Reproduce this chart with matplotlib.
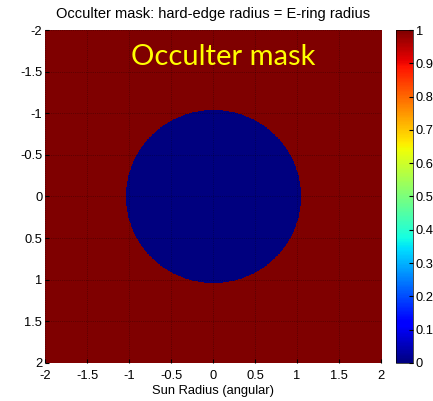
import numpy as np
import matplotlib
matplotlib.use("Agg")
import matplotlib.pyplot as plt

# Occulter geometry (in sun radii, angular)
hard_edge_radius = 1.04
field_half_width = 2.0
grid_points = 800

x_ticks = [-2, -1.5, -1, -0.5, 0, 0.5, 1, 1.5, 2]
y_ticks = [-2, -1.5, -1, -0.5, 0, 0.5, 1, 1.5, 2]
cbar_ticks = [0, 0.1, 0.2, 0.3, 0.4, 0.5, 0.6, 0.7, 0.8, 0.9, 1]

coords = np.linspace(-field_half_width, field_half_width, grid_points)
xx, yy = np.meshgrid(coords, coords)
mask = (np.hypot(xx, yy) > hard_edge_radius).astype(float)

plt.rcParams['font.family'] = ['Liberation Sans', 'DejaVu Sans']

fig = plt.figure(figsize=(4.33, 4.01), dpi=100)
ax = fig.add_axes([0.104, 0.095, 0.776, 0.830])
cax = fig.add_axes([0.9145, 0.095, 0.039, 0.830])

im = ax.imshow(mask, cmap='jet', vmin=0, vmax=1, origin='upper',
               extent=[-field_half_width, field_half_width,
                       field_half_width, -field_half_width],
               interpolation='nearest', aspect='auto')
ax.set_xlim(-2, 2)
ax.set_ylim(2, -2)
ax.set_xticks(x_ticks)
ax.set_yticks(y_ticks)
ax.set_xticklabels([f"{t:g}" for t in x_ticks])
ax.set_yticklabels([f"{t:g}" for t in y_ticks])
ax.tick_params(axis='y', labelsize=9.3, length=3, direction='in', pad=2)
ax.tick_params(axis='x', labelsize=9.3, length=3, direction='in', pad=5)
ax.grid(True, color='black', linestyle=':', linewidth=0.5, alpha=0.5)
for s in ax.spines.values():
    s.set_visible(False)

ax.set_title("Occulter mask: hard-edge radius = E-ring radius", fontsize=10.5, pad=9)
ax.set_xlabel("Sun Radius (angular)", fontsize=9.3, labelpad=2)

ax.text(0.12, -1.58, "Occulter mask", color='#ffff00', fontsize=21,
        family=['Lato', 'DejaVu Sans'], ha='center', va='baseline')

cb = fig.colorbar(im, cax=cax, ticks=cbar_ticks)
cb.ax.tick_params(labelsize=9.3, length=3, direction='in', pad=2)
cb.set_ticklabels([f"{t:g}" for t in cbar_ticks])
cb.outline.set_linewidth(0.5)

fig.savefig("out.png", dpi=100)
